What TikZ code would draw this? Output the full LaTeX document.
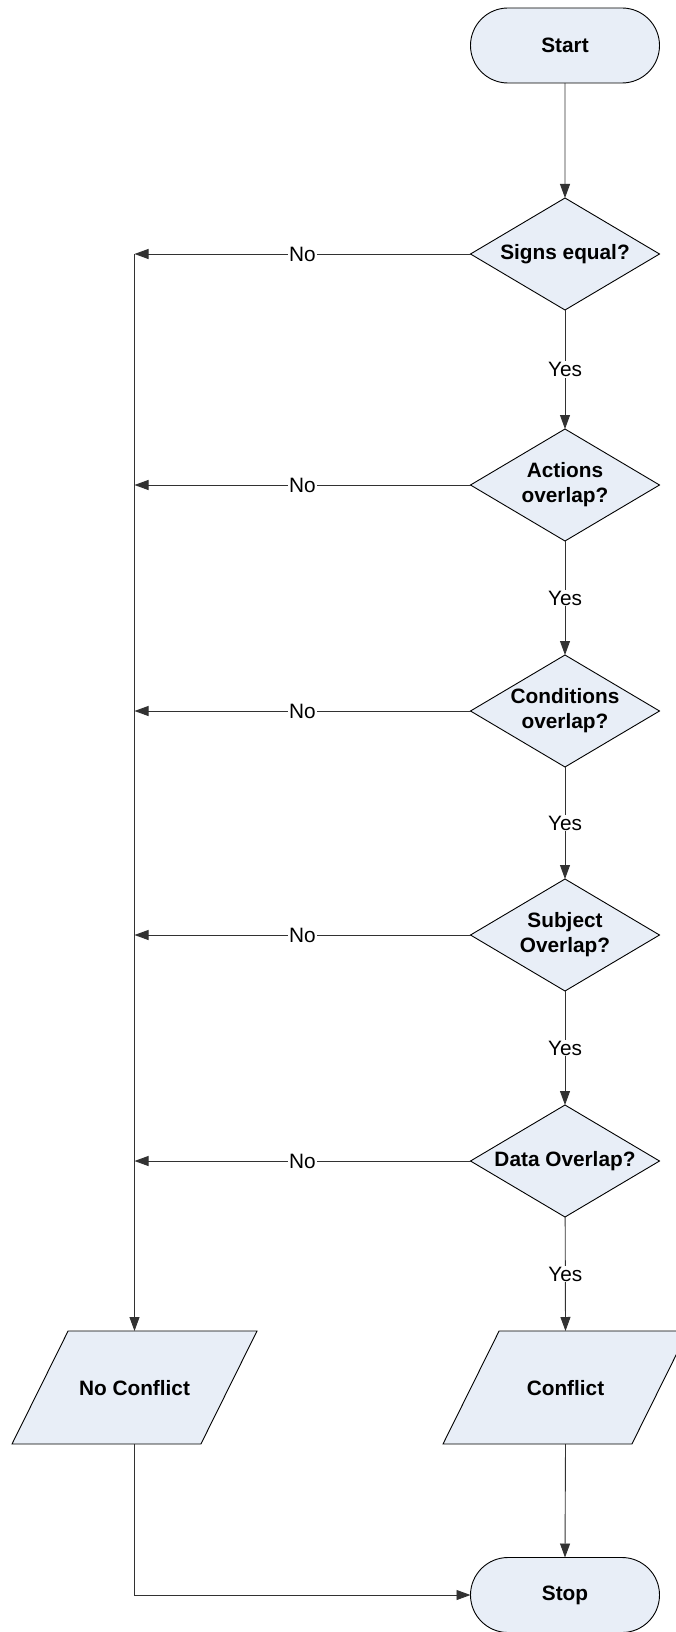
\documentclass[tikz,border=0pt]{standalone}
\usepackage{fontspec}
\setmainfont{Liberation Sans}
\usetikzlibrary{shapes.geometric,shapes.misc,arrows.meta}
\definecolor{boxfill}{RGB}{232,238,247}
\definecolor{linegray}{RGB}{50,50,50}
\begin{document}
\begin{tikzpicture}[x=1pt,y=-1pt,
  shapebase/.style={draw=black, fill=boxfill, line width=0.9pt, outer sep=0pt, inner sep=0pt,
    font=\fontsize{20.8}{25}\selectfont\bfseries, align=center},
  terminal/.style={shapebase, rounded rectangle, minimum width=189pt, minimum height=75pt},
  decision/.style={shapebase, diamond, aspect=1.6875, minimum width=189pt, minimum height=112pt},
  iobox/.style={shapebase, trapezium, trapezium left angle=63.6, trapezium right angle=116.4,
    trapezium stretches body=true, text height=64pt, text depth=49pt, minimum width=245pt},
  flow/.style={draw=linegray, line width=0.9pt, -{Triangle[length=14pt,width=10pt]}},
  lbl/.style={fill=white, inner sep=1pt, font=\fontsize{20.8}{25}\selectfont},
]
\useasboundingbox (0,0) rectangle (676,1632);

% nodes
\node[terminal] (start) at (565,45.5) {Start};
\node[decision] (d1) at (565,254) {Signs equal?};
\node[decision] (d2) at (565,485) {Actions\\overlap?};
\node[decision] (d3) at (565,711) {Conditions\\overlap?};
\node[decision] (d4) at (565,935) {Subject\\Overlap?};
\node[decision] (d5) at (565,1161) {Data Overlap?};
\node[iobox] (nc) at (134.5,1387.5) {No Conflict};
\node[iobox] (cf) at (565.5,1387.5) {Conflict};
\node[terminal] (stop) at (565,1595) {Stop};

% main "Yes" path
\draw[flow] (start) -- (d1);
\draw[flow] (d1) -- node[lbl]{Yes} (d2);
\draw[flow] (d2) -- node[lbl]{Yes} (d3);
\draw[flow] (d3) -- node[lbl]{Yes} (d4);
\draw[flow] (d4) -- node[lbl]{Yes} (d5);
\draw[flow] (d5) -- node[lbl]{Yes} (cf.center |- cf.north);

% "No" branches to the left bus
\foreach \d in {d1,d2,d3,d4,d5}
  \draw[flow] (\d.west) -- node[lbl]{No} (\d.west -| nc.center);
\draw[flow] (d1.west -| nc.center) -- (nc.center |- nc.north);

% outputs to Stop
\draw[flow] (nc.center |- nc.south) |- (stop.west);
\draw[flow] (cf.center |- cf.south) -- (stop.north);
\end{tikzpicture}
\end{document}
